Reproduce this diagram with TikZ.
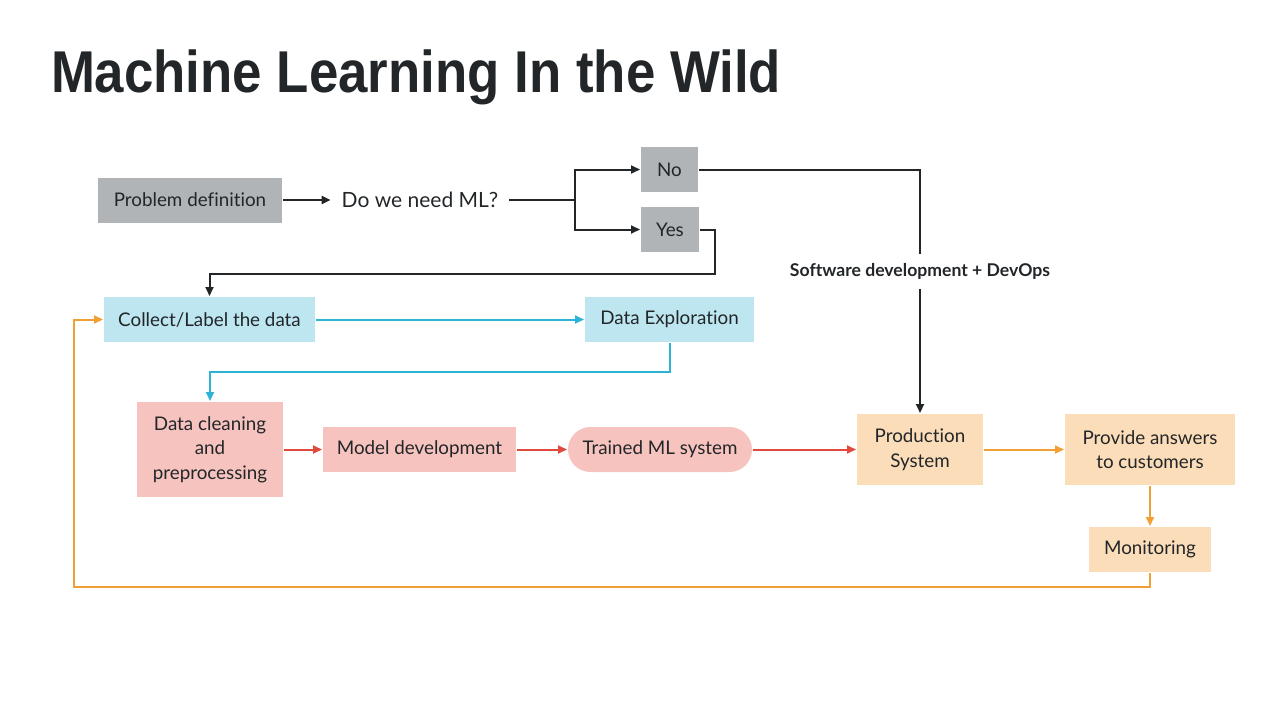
\documentclass[tikz,border=0pt]{standalone}
\usepackage{fontspec}
\setmainfont{Lato}[Ligatures={NoCommon,NoRequired,NoContextual}]
\newfontfamily\titlefont{Liberation Sans}
\usetikzlibrary{arrows.meta,positioning}

\definecolor{ink}{HTML}{222628}
\definecolor{greyfill}{HTML}{B1B4B6}
\definecolor{bluefill}{HTML}{BDE6F1}
\definecolor{blueline}{HTML}{2DB4D4}
\definecolor{pinkfill}{HTML}{F6C3BF}
\definecolor{redline}{HTML}{E04A3C}
\definecolor{peachfill}{HTML}{FCDDBA}
\definecolor{orangeline}{HTML}{F0A035}

\begin{document}
\begin{tikzpicture}[x=1pt,y=-1pt,>={Triangle[length=9pt,width=8pt]},line width=2pt,
        box/.style={rectangle,minimum height=45pt,inner sep=0pt,align=center,text=ink,
          font=\fontsize{18.8}{24.5}\selectfont},
        greybox/.style={box,fill=greyfill},
        bluebox/.style={box,fill=bluefill},
        pinkbox/.style={box,fill=pinkfill},
        peachbox/.style={box,fill=peachfill},
        blk/.style={draw=ink,->},
        blu/.style={draw=blueline,->},
        rd/.style={draw=redline,->},
        org/.style={draw=orangeline,->}]

  \useasboundingbox (0,0) rectangle (1280,720);

  % title
  \node[anchor=base west,inner sep=0pt,text=ink] (title) at (50,92)
    {\resizebox{730pt}{\height}{\titlefont\bfseries\fontsize{59}{59}\selectfont Machine Learning In the Wild}};

  % top row
  \node[greybox,minimum width=184pt] (problem) at (190,200) {Problem definition};
  \node[text=ink,inner xsep=10pt,font=\fontsize{21}{24}\selectfont] (needml) at (420,200) {Do we need ML?};
  \node[greybox,minimum width=57pt] (no) at (669.5,169.5) {No};
  \node[greybox,minimum width=58pt] (yes) at (670,229.5) {Yes};
  \coordinate (split) at (575,200);
  \coordinate (yesturn) at (715,274);

  % data stage
  \node[bluebox,minimum width=211pt] (collect) at (209.5,319.5) {Collect/Label the data};
  \node[bluebox,minimum width=169pt] (explore) at (669.5,319.5) {Data Exploration};
  \coordinate (expturn) at (669.5,372);

  % model stage
  \node[pinkbox,minimum width=146pt,minimum height=95pt] (clean) at (210,449.5) {Data cleaning\\and\\preprocessing};
  \node[pinkbox,minimum width=193pt] (model) at (419.5,449.5) {Model development};
  \node[pinkbox,minimum width=184pt,rounded corners=22.5pt] (trained) at (660,449.5) {Trained ML system};

  % production stage
  \node[text=ink,fill=white,inner xsep=4pt,inner ysep=8pt,font=\bfseries\fontsize{17.6}{20}\selectfont] (swdev) at (920,271.5) {Software development + DevOps};
  \node[peachbox,minimum width=126pt,minimum height=71pt] (prod) at (920,449.5) {Production\\System};
  \node[peachbox,minimum width=170pt,minimum height=71pt] (answers) at (1150,449.5) {Provide answers\\to customers};
  \node[peachbox,minimum width=122pt] (monitor) at (1150,549.5) {Monitoring};
  \coordinate (loopcorner) at (74,587);

  % connectors
  \draw[blk] (problem) -- (needml);
  \draw[draw=ink] (needml) -- (split);
  \draw[blk] (split) |- (no);
  \draw[blk] (split) |- (yes);
  \draw[draw=ink] (no) -| (swdev);
  \draw[blk] (swdev) -- (prod);
  \draw[blk] (yes) -| (yesturn) -| (collect);

  \draw[blu] (collect) -- (explore);
  \draw[blu] (explore) -- (expturn) -| (clean);

  \draw[rd] (clean) -- (model);
  \draw[rd] (model) -- (trained);
  \draw[rd] (trained) -- (prod);

  \draw[org] (prod) -- (answers);
  \draw[org] (answers) -- (monitor);
  \draw[org] (monitor) |- (loopcorner) |- (collect);
\end{tikzpicture}
\end{document}
